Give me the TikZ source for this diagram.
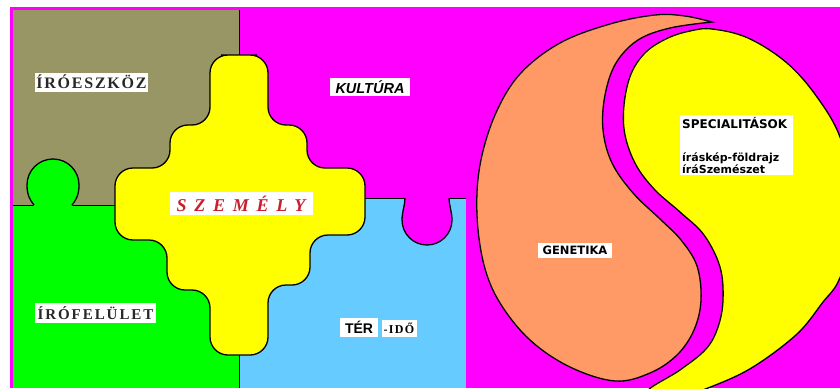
\documentclass[tikz,border=0pt]{standalone}
\usepackage{fontspec}
\setmainfont{Liberation Serif}
\newfontfamily\decor{Liberation Serif}[LetterSpace=11]
\newfontfamily\decorb{Liberation Serif}[LetterSpace=13]
\newfontfamily\szfont{Liberation Serif}[LetterSpace=43]
\newfontfamily\kult{Liberation Sans}
\newfontfamily\dvs{DejaVu Sans}
\definecolor{mag}{RGB}{255,0,255}
\definecolor{olv}{RGB}{153,150,102}
\definecolor{grn}{RGB}{0,255,0}
\definecolor{lblu}{RGB}{102,204,255}
\definecolor{yel}{RGB}{255,255,0}
\definecolor{sal}{RGB}{255,153,102}
\definecolor{szred}{RGB}{200,30,45}
\definecolor{dgray}{RGB}{40,40,40}
\tikzset{
  lab/.style={fill=white, inner sep=0pt, text=black},
  piece/.style={draw=black, line width=1.3pt},
  edge/.style={draw=black, line width=1pt}
}
\begin{document}
\begin{tikzpicture}[x=1pt,y=-1pt]
\useasboundingbox (0,0) rectangle (840,388);
\fill[white] (0,0) rectangle (840,388);
\begin{scope}
\clip (10,7) rectangle (840,388);
% background
\fill[mag] (10,7) rectangle (840,388);
% olive, green, blue pieces
\fill[olv] (13,10) rectangle (239,205);
\fill[grn] (13,205) rectangle (239,388);
\fill[lblu] (239,198) rectangle (466,388);
\draw[edge] (239,10) -- (239,200);
\draw[edge] (13,205) -- (239,205);
\draw[edge] (239,198) -- (466,198);
\draw[edge] (239,198) -- (239,388);
% green bump
\fill[grn] (34,206) .. controls (30,200) and (27,195) .. (27,185) .. controls (27,170.6) and (38.6,159) .. (53,159) .. controls (67.4,159) and (79,170.6) .. (79,185) .. controls (79,195) and (76,200) .. (72,206) -- cycle;
\draw[piece] (34,205) .. controls (30,200) and (27,195) .. (27,185) .. controls (27,170.6) and (38.6,159) .. (53,159) .. controls (67.4,159) and (79,170.6) .. (79,185) .. controls (79,195) and (76,200) .. (72,205);
% magenta notch in blue
\fill[mag] (405,197) .. controls (405,205) and (402,212) .. (402,220) .. controls (402,233.8) and (413.2,245) .. (427,245) .. controls (440.8,245) and (452,233.8) .. (452,220) .. controls (452,212) and (449,205) .. (449,197) -- cycle;
\draw[piece] (405,198) .. controls (405,205) and (402,212) .. (402,220) .. controls (402,233.8) and (413.2,245) .. (427,245) .. controls (440.8,245) and (452,233.8) .. (452,220) .. controls (452,212) and (449,205) .. (449,198);
% person (yellow)
\filldraw[piece, fill=yel, rounded corners=18pt] (239,55) -- (268,55) -- (268,125) -- (307,125) -- (307,168) -- (365,168) -- (365,235) -- (310,235) -- (310,285) -- (268,285) -- (268,355) -- (210,355) -- (210,290) -- (167,290) -- (167,240) -- (115,240) -- (115,168) -- (170,168) -- (170,125) -- (210,125) -- (210,55) -- cycle;
% yin-yang
\filldraw[piece, fill=sal] plot[smooth, tension=0.6] coordinates {(712,22) (685,16) (655,15) (610,24) (560,43) (520,74) (495,115) (480,165) (477,215) (484,265) (500,303) (530,340) (570,367) (615,381) (650,373) (677,355) (694,330) (701,300) (697,266) (681,240) (660,219) (633,193) (612,163) (603,130) (605,95) (616,63) (638,40) (670,28) (712,22)} -- cycle;
\filldraw[piece, fill=yel] plot[smooth cycle, tension=0.6] coordinates {(712,29) (748,38) (787,63) (817,97) (840,137) (852,190) (850,245) (838,282) (823,302) (797,334) (753,367) (713,386) (680,396) (647,392) (680,370) (706,349) (718,327) (723,300) (720,267) (704,235) (680,212) (655,190) (636,165) (625,135) (624,105) (631,74) (646,52) (668,38) (690,31)};
\end{scope}
% labels
\node[lab, minimum width=113pt, minimum height=19pt, text=dgray] (iro) at (91.5,82) {\decor\bfseries\fontsize{16}{18}\selectfont ÍRÓESZKÖZ};
\node[lab, minimum width=80pt, minimum height=18pt] (kult) at (370,87) {\kult\bfseries\itshape\fontsize{14.5}{16}\selectfont KULTÚRA};
\node[lab, minimum width=143pt, minimum height=23pt, text=szred] (szem) at (241,203.5) {\szfont\bfseries\itshape\fontsize{18}{20}\selectfont SZEMÉLY};
\node[lab, minimum width=121pt, minimum height=20pt, text=dgray] (irof) at (95.5,313) {\decorb\bfseries\fontsize{15}{17}\selectfont ÍRÓFELÜLET};
\node[lab, minimum width=38pt, minimum height=19pt] (ter) at (359,327.5) {\kult\bfseries\fontsize{14}{16}\selectfont TÉR};
\node[lab, minimum width=35pt, minimum height=17pt] (ido) at (399,328) {\decor\bfseries\fontsize{12}{14}\selectfont -IDŐ};
\node[lab, minimum width=74pt, minimum height=15pt] (gen) at (575,250) {\dvs\bfseries\fontsize{11.5}{13}\selectfont GENETIKA};
\node[lab, anchor=north west, inner xsep=2pt, inner ysep=2pt, text width=109pt, align=left] (spec) at (680,115) {\dvs\bfseries\fontsize{12}{15}\selectfont SPECIALITÁSOK\\[18pt]\fontsize{11}{15}\selectfont íráskép-földrajz\\íráSzemészet};
\end{tikzpicture}
\end{document}
